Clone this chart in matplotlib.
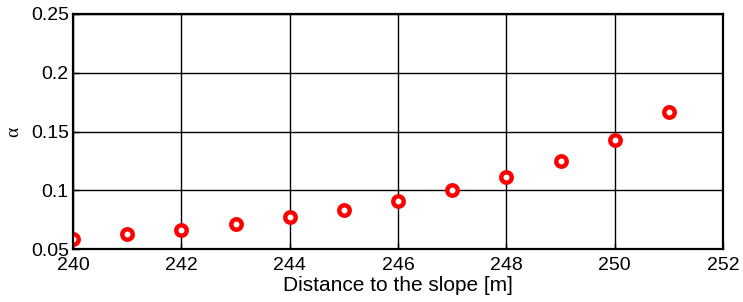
import matplotlib
matplotlib.use("Agg")
import matplotlib.pyplot as plt

distance = [240, 241, 242, 243, 244, 245, 246, 247, 248, 249, 250, 251]
alpha = [0.0585, 0.0628, 0.0662, 0.0713, 0.0770, 0.0832, 0.0908, 0.1000, 0.1116, 0.1252, 0.1430, 0.1668]

plt.rcParams["font.family"] = ["Liberation Sans", "DejaVu Sans"]

fig = plt.figure(figsize=(7.43, 3.02), dpi=100)
ax = fig.add_axes([73 / 743, 1 - 249 / 302, 650 / 743, 235 / 302])

ax.plot(distance, alpha, linestyle="none", marker="o", markersize=7.5,
        markerfacecolor="white", markeredgecolor="red", markeredgewidth=3.2)

ax.set_xlim(240, 252)
ax.set_ylim(0.05, 0.25)
ax.set_xticks([240, 242, 244, 246, 248, 250, 252])
ax.set_yticks([0.05, 0.1, 0.15, 0.2, 0.25])
ax.set_yticklabels(["0.05", "0.1", "0.15", "0.2", "0.25"])
ax.grid(True, color="black", linewidth=1, linestyle="-")
ax.set_axisbelow(True)
for s in ax.spines.values():
    s.set_linewidth(1.6)
ax.tick_params(axis="x", direction="in", length=4, width=1, labelsize=14, pad=6)
ax.tick_params(axis="y", direction="in", length=4, width=1, labelsize=14, pad=3)

ax.set_xlabel("Distance to the slope [m]", fontsize=15, labelpad=1)
ax.set_ylabel("α", fontsize=14, family="Liberation Serif", labelpad=6)

fig.savefig("out.png", dpi=100)
